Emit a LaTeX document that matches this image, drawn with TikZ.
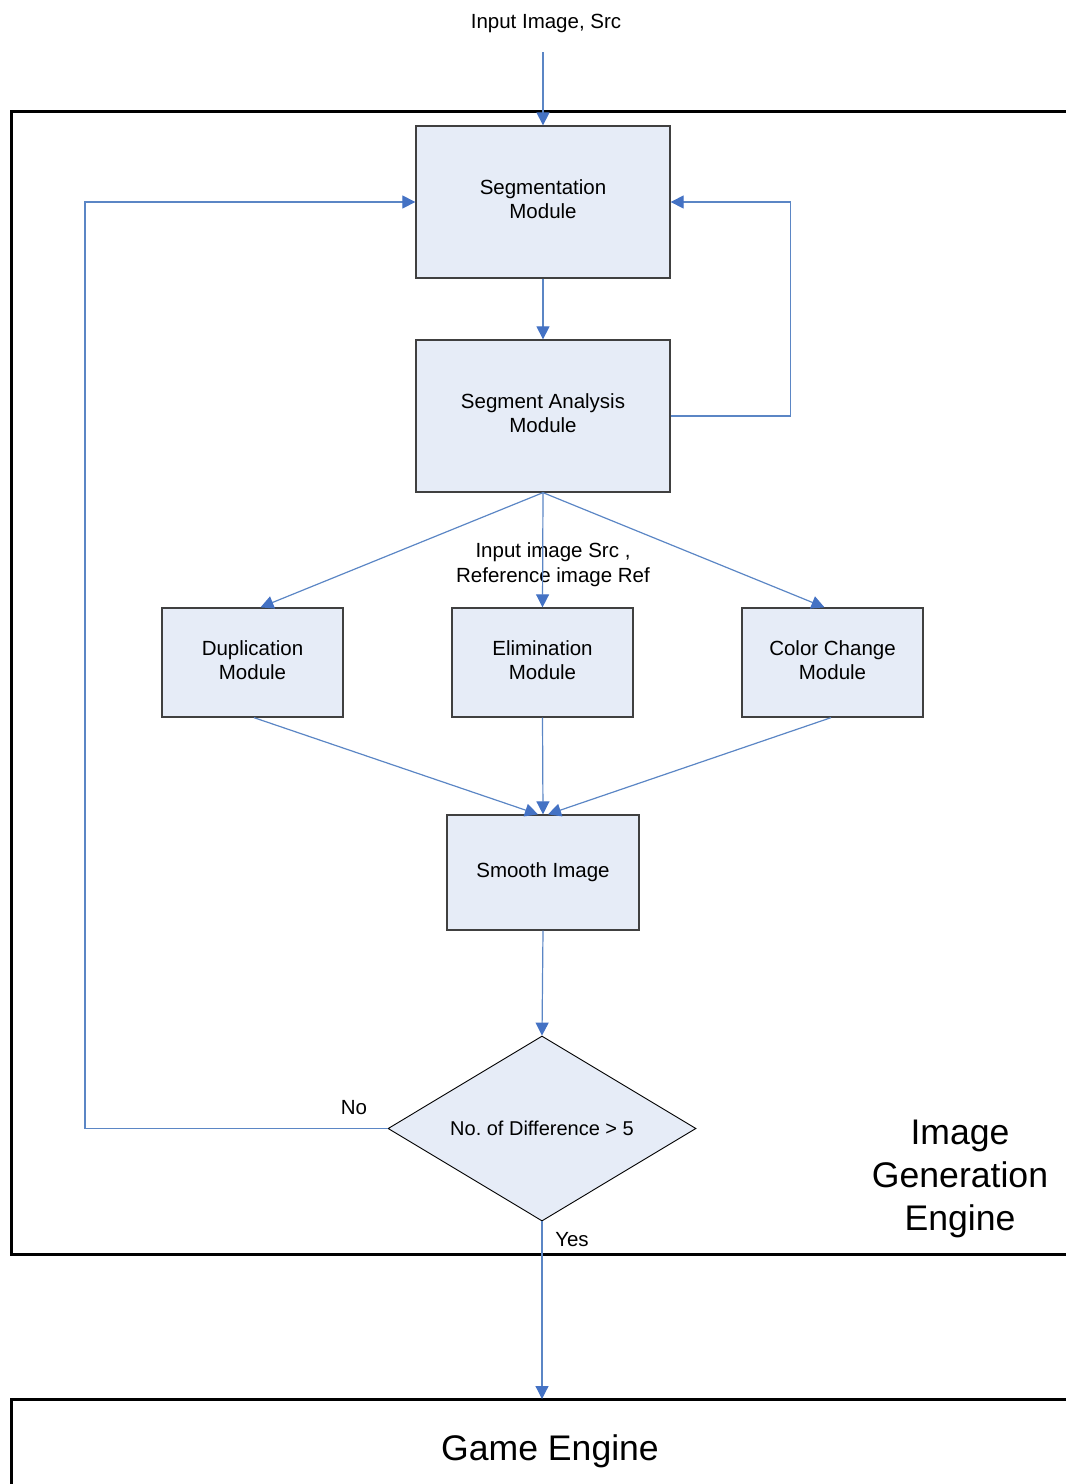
\documentclass[tikz,border=0pt]{standalone}
\usepackage{fontspec}
\setmainfont{Liberation Sans}
\usetikzlibrary{arrows.meta,shapes.geometric}
\definecolor{linkblue}{HTML}{5B86C5}
\definecolor{tipblue}{HTML}{4472C4}
\definecolor{boxfill}{HTML}{E6ECF7}
\definecolor{boxedge}{HTML}{404040}
\frenchspacing
% two centred lines, lifted slightly inside their box
\newcommand{\twolines}[2]{\raisebox{2pt}{\begin{tabular}{@{}c@{}}#1\\#2\end{tabular}}}

\begin{document}
\begin{tikzpicture}[x=1pt,y=-1pt,
  module/.style={draw=boxedge, line width=1.3pt, fill=boxfill, align=center,
    font=\fontsize{20.5}{24}\selectfont, inner sep=0pt},
  decision/.style={diamond, draw=black, line width=0.9pt, fill=boxfill, aspect=1.665,
    minimum width=308pt, minimum height=185pt, inner sep=0pt,
    font=\fontsize{20}{24}\selectfont},
  link/.style={draw=linkblue, line width=1.2pt,
    -{Triangle[length=13pt,width=13pt,color=tipblue]}},
  plain/.style={font=\fontsize{20.5}{25}\selectfont, align=center, inner sep=0pt},
  big/.style={font=\fontsize{35.6}{43}\selectfont, align=center, inner sep=0pt},
  frame/.style={draw=black, line width=3pt}]

\useasboundingbox (0,0) rectangle (1066,1484);
\clip (0,0) rectangle (1066,1484);

% engine frames, running off the right and bottom edges
\draw[frame] (11,111) rectangle (1100,1254);
\draw[frame] (11,1399) rectangle (1100,1520);

% modules
\node[module, minimum width=254pt, minimum height=152pt] (seg) at (543,202) {\twolines{Segmentation}{Module}};
\node[module, minimum width=254pt, minimum height=152pt] (ana) at (543,416) {\twolines{Segment Analysis}{Module}};
\node[module, minimum width=181pt, minimum height=109pt] (dup) at (252.5,662.5) {\twolines{Duplication}{Module}};
\node[module, minimum width=181pt, minimum height=109pt] (eli) at (542.5,662.5) {\twolines{Elimination}{Module}};
\node[module, minimum width=181pt, minimum height=109pt] (col) at (832.5,662.5) {\twolines{Color Change}{Module}};
\node[module, minimum width=192pt, minimum height=115pt] (smo) at (543,872.5) {Smooth Image};
\node[decision] (dec) at (542,1128.5) {No. of Difference > 5};

% labels
\node[plain] (srclbl) at (546,23) {Input Image, Src};
\node[plain] (inlbl) at (553,565) {Input image Src ,\\Reference image Ref};
\node[plain] (nolbl) at (354,1108) {No};
\node[plain] (yeslbl) at (572,1240) {Yes};
\node[big] (iglbl) at (960,1179) {Image\\Generation\\Engine};
\node[big] (gelbl) at (550,1451) {Game Engine};

% free ends of connectors
\coordinate (srcfoot) at (543,52);
\coordinate (leftturn) at (85,1128.5);
\coordinate (gametop) at (542,1399);

% connectors
\draw[link] (srcfoot) -- (seg.north);
\draw[link] (seg.south) -- (ana.north);
\draw[link] (ana.east) -- ++(120,0) |- (seg.east);
\draw[link] (ana.south) -- ([xshift=8pt]dup.north);
\draw[link] (ana.south) -- (eli.north);
\draw[link] (ana.south) -- ([xshift=-8pt]col.north);
\draw[link] ([xshift=1.5pt]dup.south) -- ([xshift=-5pt]smo.north);
\draw[link] (eli.south) -- (smo.north);
\draw[link] ([xshift=-1.5pt]col.south) -- ([xshift=5pt]smo.north);
\draw[link] (smo.south) -- (dec.north);
\draw[link] (dec.west) -- (leftturn) |- (seg.west);
\draw[link] (dec.south) -- (gametop);

\end{tikzpicture}
\end{document}
